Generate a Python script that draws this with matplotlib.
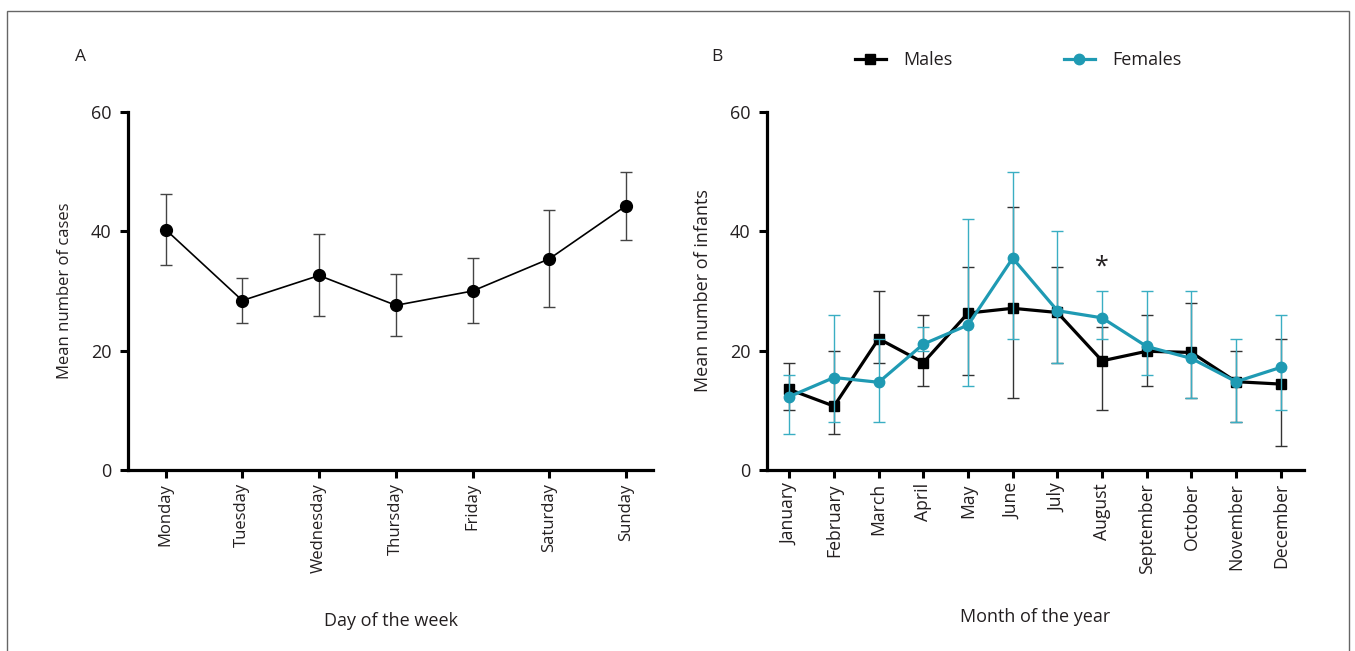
import matplotlib
matplotlib.use("Agg")
import matplotlib.pyplot as plt
import numpy as np
from matplotlib.lines import Line2D
from matplotlib.patches import Rectangle

plt.rcParams['font.family'] = ['Open Sans', 'DejaVu Sans']

# Panel A - day of the week
dias = ["Monday", "Tuesday", "Wednesday", "Thursday", "Friday", "Saturday", "Sunday"]
casos_media = [40.3, 28.4, 32.6, 27.6, 30.0, 35.4, 44.3]
casos_inf = [34.3, 24.7, 25.8, 22.4, 24.6, 27.4, 38.6]
casos_sup = [46.2, 32.2, 39.5, 32.9, 35.5, 43.5, 49.9]

# Panel B - month of the year
meses = ["January", "February", "March", "April", "May", "June", "July",
         "August", "September", "October", "November", "December"]
machos_media = [13.5, 10.7, 22.0, 18.0, 26.3, 27.1, 26.4, 18.3, 19.9, 19.7, 14.8, 14.4]
machos_inf = [10.0, 6.0, 18.0, 14.0, 16.0, 12.0, 18.0, 10.0, 14.0, 12.0, 8.0, 4.0]
machos_sup = [18.0, 20.0, 30.0, 26.0, 34.0, 44.0, 34.0, 24.0, 26.0, 28.0, 20.0, 22.0]
femeas_media = [12.3, 15.5, 14.7, 21.1, 24.3, 35.5, 26.7, 25.5, 20.7, 18.7, 14.8, 17.2]
femeas_inf = [6.0, 8.0, 8.0, 20.0, 14.0, 22.0, 18.0, 22.0, 16.0, 12.0, 8.0, 10.0]
femeas_sup = [16.0, 26.0, 22.0, 24.0, 42.0, 50.0, 40.0, 30.0, 30.0, 30.0, 22.0, 26.0]

cor_texto = "#231f20"
teal = "#1f9ab3"
teal_claro = "#3aaec3"


def estilo_eixo(ax, tam_x):
    ax.spines["top"].set_visible(False)
    ax.spines["right"].set_visible(False)
    ax.spines["left"].set_linewidth(2.3)
    ax.spines["bottom"].set_linewidth(2.3)
    ax.tick_params(axis="both", length=6, width=2.2, colors="black",
                   labelcolor=cor_texto)
    ax.tick_params(axis="y", labelsize=13, pad=6)
    ax.tick_params(axis="x", labelsize=tam_x)
    ax.set_ylim(0, 60)
    ax.set_yticks([0, 20, 40, 60])


fig = plt.figure(figsize=(13.55, 6.51), dpi=100)

# Painel A
ax1 = fig.add_axes([128 / 1355, 181 / 651, 525 / 1355, 358 / 651])
x1 = np.arange(len(dias))
m1 = np.array(casos_media)
err1 = [m1 - np.array(casos_inf), np.array(casos_sup) - m1]
ax1.errorbar(x1, m1, yerr=err1, fmt="none", ecolor="#444444", elinewidth=1.0,
             capsize=4, capthick=1.0, zorder=2)
ax1.plot(x1, m1, color="black", linewidth=1.2, marker="o", markersize=8.5, zorder=3)
estilo_eixo(ax1, 12)
ax1.set_xlim(-0.49, 6.35)
ax1.set_xticks(x1)
ax1.set_xticklabels(dias, rotation=90)
ax1.set_ylabel("Mean number of cases", fontsize=12, color=cor_texto)
ax1.yaxis.label.set_va("center")
ax1.yaxis.set_label_coords(-0.12, 0.5)
ax1.set_xlabel("Day of the week", fontsize=13, color=cor_texto)
ax1.xaxis.label.set_va("center")
ax1.xaxis.set_label_coords(0.5, -0.421)

# Painel B
ax2 = fig.add_axes([767 / 1355, 181 / 651, 537 / 1355, 358 / 651])
x2 = np.arange(len(meses))
mm = np.array(machos_media)
mf = np.array(femeas_media)
err_m = [mm - np.array(machos_inf), np.array(machos_sup) - mm]
err_f = [mf - np.array(femeas_inf), np.array(femeas_sup) - mf]
ax2.errorbar(x2, mm, yerr=err_m, fmt="none", ecolor="#333333", elinewidth=1.0,
             capsize=4.3, capthick=1.0, zorder=2)
ax2.plot(x2, mm, color="black", linewidth=2.3, marker="s", markersize=7.5, zorder=3)
ax2.errorbar(x2, mf, yerr=err_f, fmt="none", ecolor=teal_claro, elinewidth=1.0,
             capsize=4.3, capthick=1.0, zorder=4)
ax2.plot(x2, mf, color=teal, linewidth=2.3, marker="o", markersize=7.5, zorder=5)
estilo_eixo(ax2, 12.7)
ax2.set_xlim(-0.5, 11.52)
ax2.set_xticks(x2)
ax2.set_xticklabels(meses, rotation=90)
ax2.set_ylabel("Mean number of infants", fontsize=13, color=cor_texto)
ax2.yaxis.label.set_va("center")
ax2.yaxis.set_label_coords(-0.119, 0.5)
ax2.set_xlabel("Month of the year", fontsize=13, color=cor_texto)
ax2.xaxis.label.set_va("center")
ax2.xaxis.set_label_coords(0.5, -0.41)
ax2.text(7, 34.0, "*", ha="center", va="center", fontsize=18, color=cor_texto)

# Legenda
alcas = [
    Line2D([], [], color="black", linewidth=2.3, marker="s", markersize=7.5),
    Line2D([], [], color=teal, linewidth=2.3, marker="o", markersize=7.5),
]
fig.legend(alcas, ["Males", "Females"], loc="center left",
           bbox_to_anchor=(855 / 1355, 1 - 60 / 651), ncol=2, frameon=False,
           fontsize=13, handlelength=1.7, handletextpad=0.95, columnspacing=6.2,
           borderpad=0, borderaxespad=0, labelcolor=cor_texto)

fig.text(75 / 1355, 1 - 57 / 651, "A", fontsize=12.5, color=cor_texto, va="center")
fig.text(711 / 1355, 1 - 57 / 651, "B", fontsize=12.5, color=cor_texto, va="center")

# Moldura
fig.patches.append(Rectangle((7 / 1355, -0.05), 1342 / 1355, 1 - 11 / 651 + 0.05,
                             transform=fig.transFigure, fill=False,
                             edgecolor="#666666", linewidth=1.0))

fig.savefig("out.png", dpi=100)
